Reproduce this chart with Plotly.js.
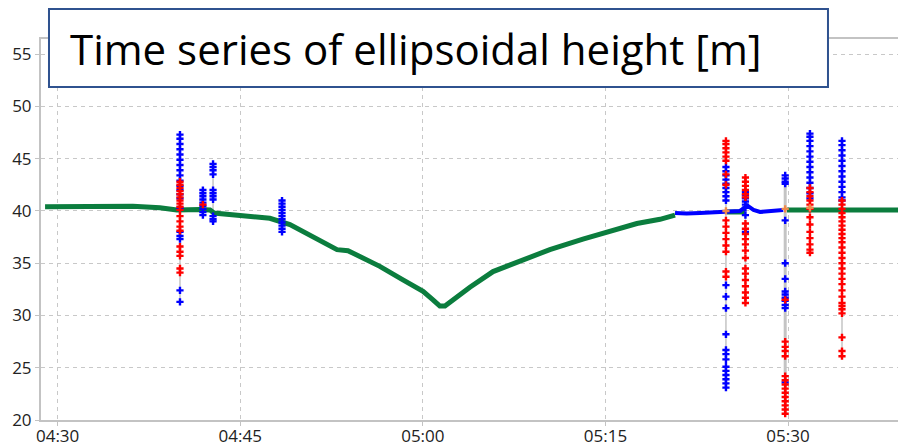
<!DOCTYPE html>
<html>
<head>
<meta charset="utf-8">
<script src="https://cdn.plot.ly/plotly-3.0.1.min.js"></script>
<style>html,body{margin:0;padding:0;background:#fff;}#chart{width:898px;height:445px;}</style>
</head>
<body>
<div id="chart"></div>
<script>
const day = '2016-01-01 ';
const titleText = 'Time series of ellipsoidal height [m]';

// Green (main) height series: time, value (null = gap)
const greenTimes = ['04:28:58','04:36:11','04:38:24','04:39:48','04:41:41','04:42:31','04:42:50','04:44:59','04:46:13','04:47:26','04:49:05','04:50:44','04:52:22','04:52:57','04:53:51','04:54:50','04:56:28','04:58:22','05:00:01','05:00:50','05:01:24','05:01:49','05:02:48','05:03:52','05:05:46','05:08:13','05:10:26','05:13:09','05:15:07','05:17:35','05:19:29','05:20:43','05:20:50','05:24:59','05:26:28','05:26:35','05:29:55','05:40:00'];
const greenValues = [40.4,40.45,40.3,40.1,40.15,40.1,39.8,39.6,39.5,39.3,38.7,37.7,36.7,36.3,36.2,35.6,34.7,33.4,32.3,31.5,30.9,30.9,31.8,32.7,34.2,35.3,36.3,37.3,38.0,38.8,39.2,39.6,null,39.9,39.9,null,40.1,40.1];

// Blue line segment (after 05:20)
const blueLineTimes = ['05:20:43','05:21:40','05:22:46','05:23:50','05:24:49','05:26:03','05:26:40','05:27:10','05:27:42','05:28:20','05:28:56','05:29:36'];
const blueLineValues = [39.8,39.75,39.8,39.85,39.9,40.0,40.5,40.1,39.9,39.95,40.0,40.1];

// Outlier spikes: time, blue marker values, red marker values
const spikeTimes = ['04:40:03','04:41:56','04:42:46','04:48:26','05:24:54','05:26:30','05:29:46','05:31:48','05:34:26'];
const spikeBlue = [
  [47.3,46.9,46.4,45.9,45.4,44.9,44.4,43.9,43.4,42.9,42.4,42.0,41.6,41.2,40.3,38.0,37.6,37.3,32.4,31.3],
  [42.0,41.7,41.4,41.1,40.8,40.5,40.2,39.9,39.6],
  [44.5,44.2,43.9,43.5,42.0,41.7,41.4,41.1,39.5,39.2,39.0],
  [41.0,40.7,40.4,40.1,39.8,39.5,39.2,38.9,38.6,38.3,38.0],
  [44.2,43.8,43.4,43.0,42.6,42.2,41.8,41.4,41.0,32.9,31.8,30.7,28.2,26.7,26.3,25.8,25.1,24.7,24.3,23.9,23.5,23.1],
  [41.8,41.5,41.2,40.9,40.6,40.3,39.6,38.0],
  [43.4,43.1,42.8,42.6,39.1,35.0,33.5,32.3,32.0,31.7,31.4,31.0,30.7,23.6],
  [47.4,47.1,46.7,46.2,45.7,45.2,44.7,44.2,43.7,43.2,42.7,42.2,41.7,41.2],
  [46.7,46.3,45.8,45.3,44.8,44.3,43.8,43.3,42.8,42.3,41.8,41.3,41.0]
];
const spikeRed = [
  [42.8,42.5,42.2,41.9,41.6,41.3,41.0,40.7,40.4,40.1,39.5,39.0,38.5,38.1,36.6,36.1,35.7,34.5,34.1],
  [40.6],
  [],
  [],
  [46.7,46.4,46.0,45.6,45.2,44.8,43.5,42.5,39.1,38.5,37.9,37.3,36.7,36.1,34.2,33.7],
  [43.2,42.8,42.4,42.0,41.6,41.3,38.8,38.3,37.8,37.3,36.8,36.2,35.5,34.5,34.0,33.4,32.8,32.2,31.7,31.2],
  [31.5,27.5,27.0,26.6,26.1,24.2,23.8,23.4,23.0,22.6,22.2,21.8,21.4,21.0,20.6],
  [42.2,41.8,41.4,41.0,40.6,40.2,39.4,38.7,38.0,37.4,36.8,36.3,36.0],
  [41.0,40.6,40.2,39.8,39.4,39.0,38.6,38.2,37.8,37.4,37.0,36.5,36.0,35.5,35.0,34.5,34.0,33.5,33.0,32.4,31.8,31.2,30.9,30.6,30.2,27.9,26.6,26.1]
];
const spikeOrange = [null,null,null,null,40.0,null,40.2,40.3,null];

const xTickVals = ['04:30','04:45','05:00','05:15','05:30'];
const yTickVals = [20,25,30,35,40,45,50,55];

const t = s => day + s;
const traces = [];

// gray connecting lines for spikes
spikeTimes.forEach((st, i) => {
  const all = spikeBlue[i].concat(spikeRed[i]);
  const lo = Math.min(...all), hi = Math.max(...all);
  traces.push({x:[t(st), t(st)], y:[hi, lo], mode:'lines', type:'scatter',
    line:{color:'#c4c4c4', width: i === 6 ? 3 : 1.5}, hoverinfo:'skip', showlegend:false});
});

traces.push({x: greenTimes.map(t), y: greenValues, mode:'lines', type:'scatter',
  line:{color:'#0b7d3e', width:5}, connectgaps:false, showlegend:false});
traces.push({x: blueLineTimes.map(t), y: blueLineValues, mode:'lines', type:'scatter',
  line:{color:'#0000ff', width:4}, showlegend:false});

spikeTimes.forEach((st, i) => {
  if (spikeBlue[i].length) traces.push({x: spikeBlue[i].map(() => t(st)), y: spikeBlue[i], mode:'markers', type:'scatter',
    marker:{symbol:'cross', size:6, color:'#0000ff'}, showlegend:false});
  if (spikeRed[i].length) traces.push({x: spikeRed[i].map(() => t(st)), y: spikeRed[i], mode:'markers', type:'scatter',
    marker:{symbol:'cross', size:6, color:'#ff0000'}, showlegend:false});
  if (spikeOrange[i] !== null) traces.push({x:[t(st)], y:[spikeOrange[i]], mode:'markers', type:'scatter',
    marker:{symbol:'cross', size:6, color:'#f08a4b'}, showlegend:false});
});

const axisCommon = {
  showline:true, linecolor:'#c3c3c3', linewidth:2, mirror:true,
  showgrid:true, gridcolor:'#c8c8c8', gridwidth:1, griddash:'4px,4px',
  ticks:'outside', ticklen:4, tickcolor:'#c3c3c3', zeroline:false,
  tickfont:{family:'Open Sans, sans-serif', size:17, color:'#222222'}
};

const layout = {
  width:898, height:445, autosize:false,
  margin:{l:41, r:0, t:39, b:25, pad:0},
  paper_bgcolor:'#ffffff', plot_bgcolor:'#ffffff',
  showlegend:false,
  xaxis: Object.assign({}, axisCommon, {
    type:'date', range:[t('04:28:38'), t('05:39:02')],
    tickvals: xTickVals.map(t), ticktext: xTickVals, tickangle:0, ticklabelstandoff:-4
  }),
  yaxis: Object.assign({}, axisCommon, {
    range:[20, 56.45], tickvals: yTickVals, ticktext: yTickVals.map(String)
  }),
  shapes:[{type:'rect', xref:'paper', yref:'paper', x0:0.00933, x1:0.9183, y0:0.874, y1:1.0787,
    line:{color:'#2f528f', width:2}, fillcolor:'#ffffff', layer:'above'}],
  annotations:[{text:titleText, xref:'paper', yref:'paper', x:0.0315, y:0.976, xanchor:'left', yanchor:'middle',
    showarrow:false, font:{family:'Open Sans, sans-serif', size:42, color:'#000000'}}]
};

Plotly.newPlot('chart', traces, layout, {displayModeBar:false, staticPlot:true});
</script>
</body>
</html>
